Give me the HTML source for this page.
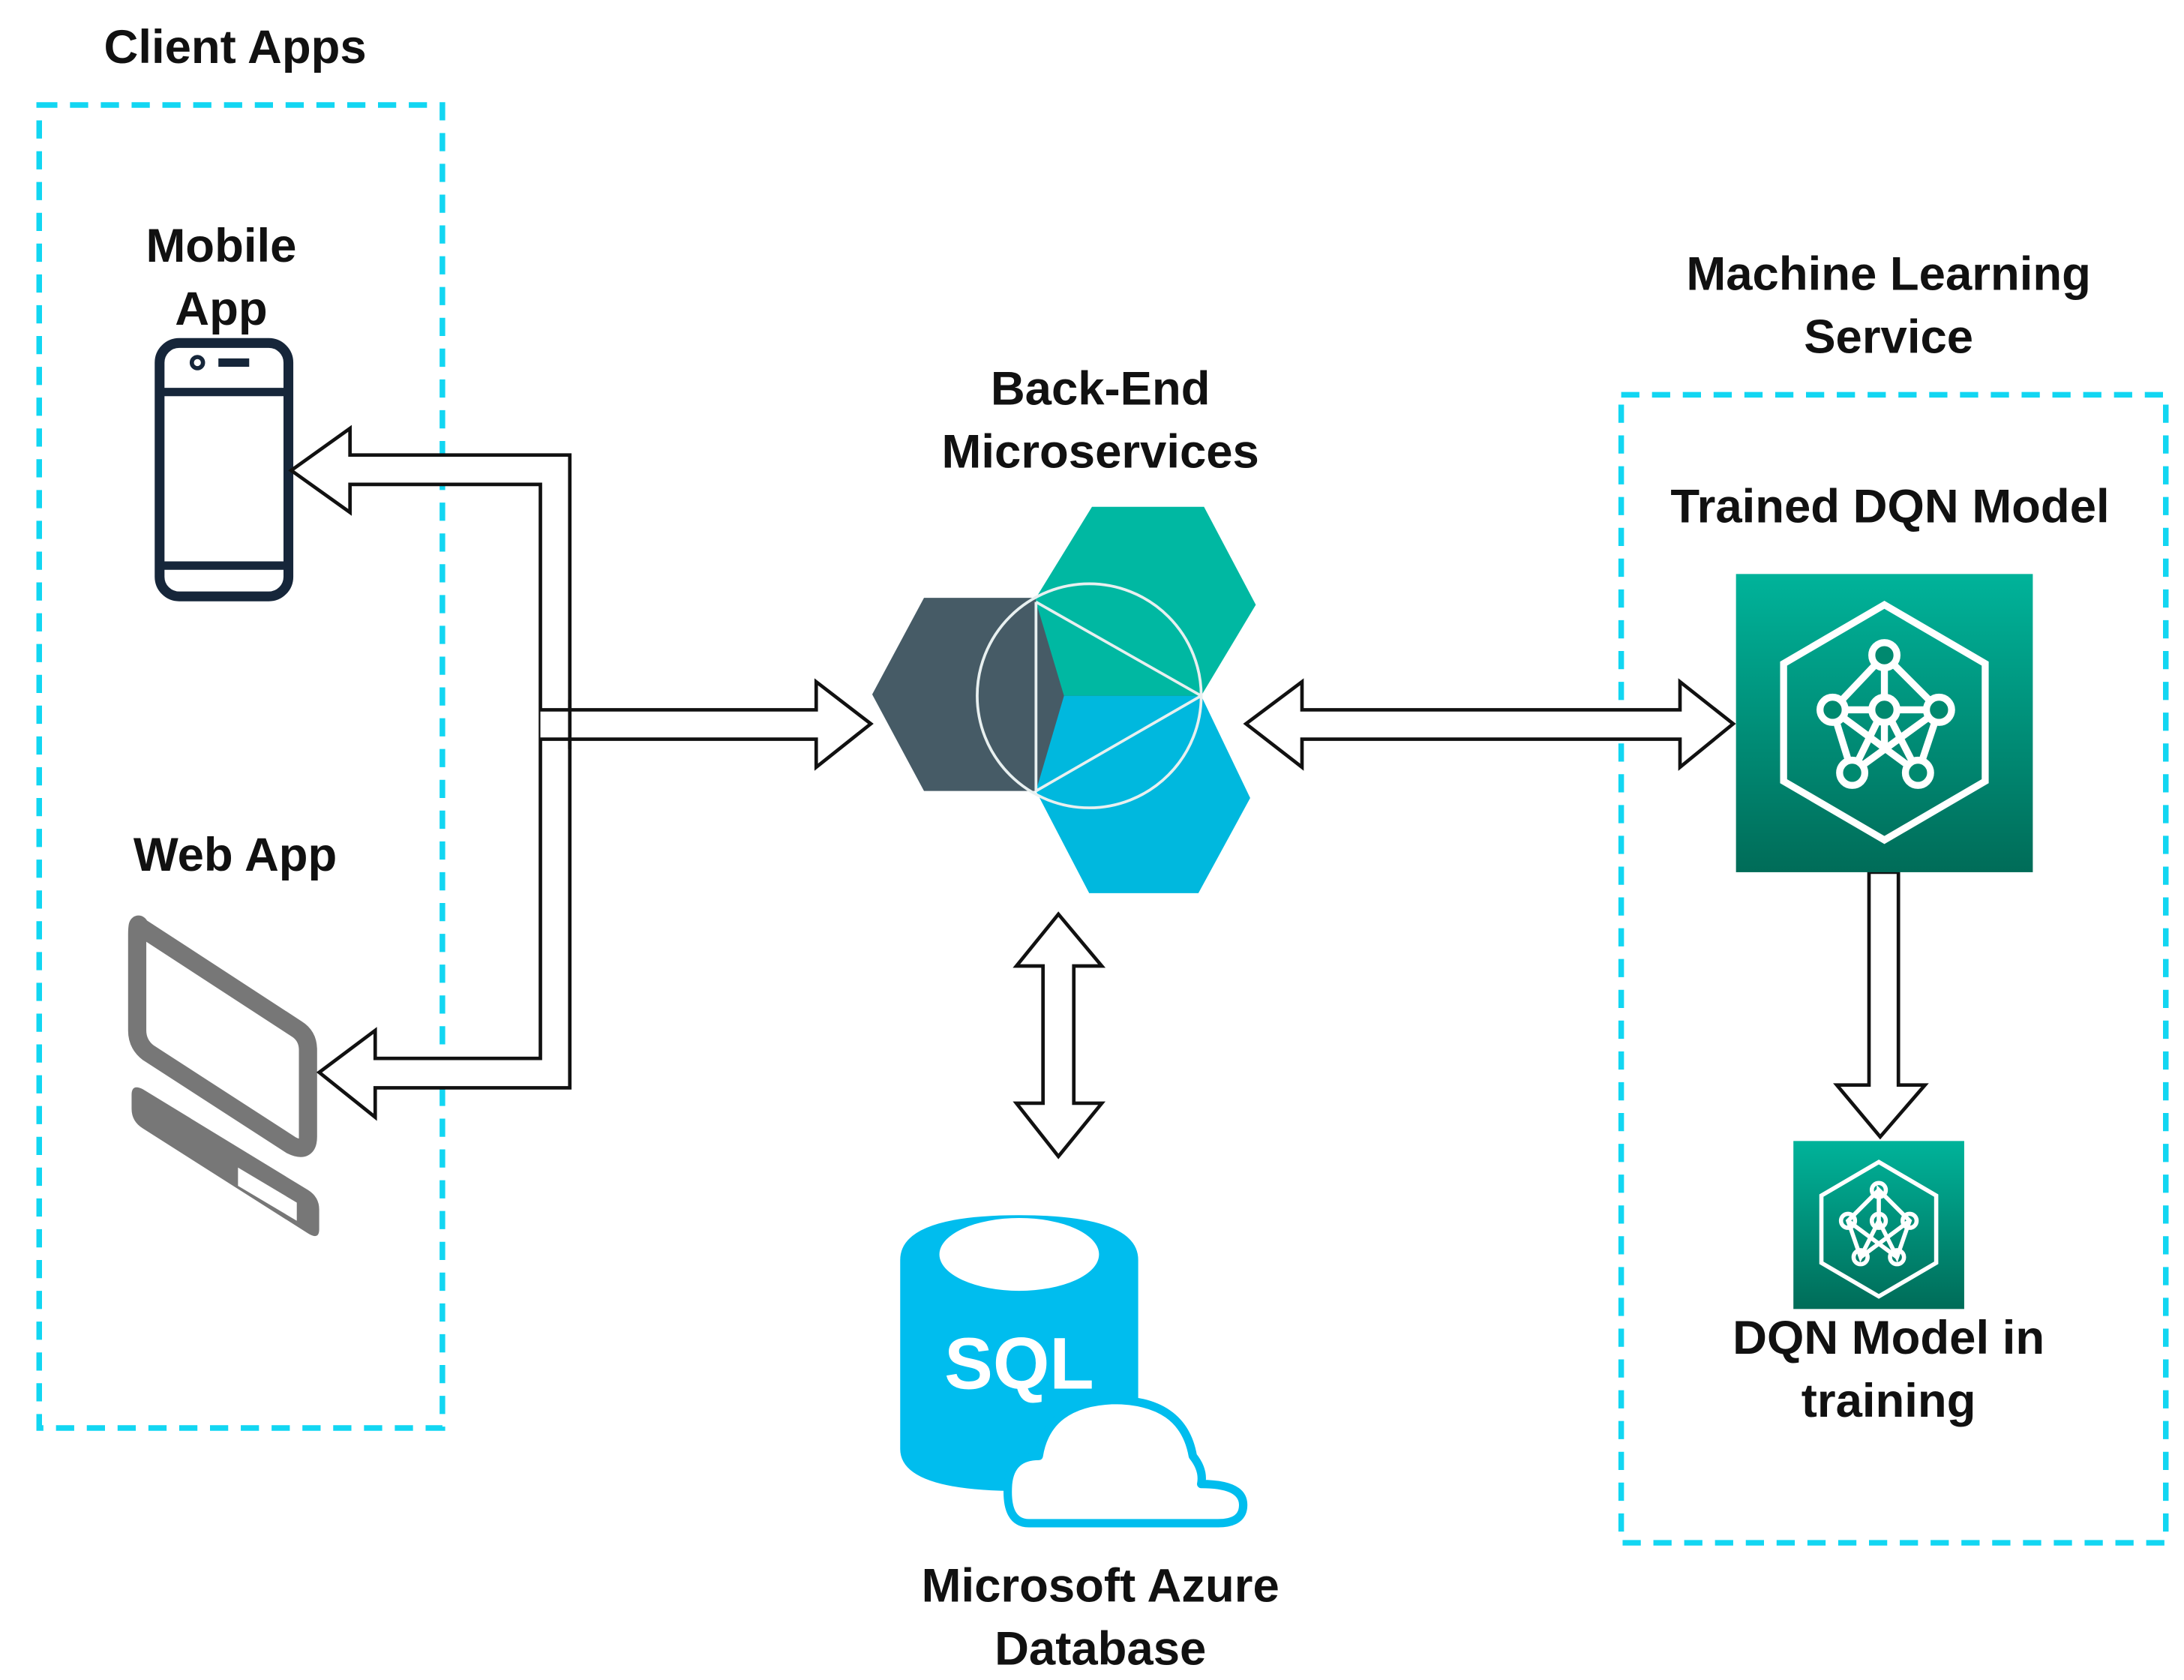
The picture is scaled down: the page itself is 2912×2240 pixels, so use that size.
<!DOCTYPE html>
<html><head><meta charset="utf-8"><style>
html,body{margin:0;padding:0;background:#fff;}
svg{display:block;}
text{font-family:"Liberation Sans",Arial,sans-serif;font-weight:bold;fill:#111;font-size:34px;text-anchor:middle;}
</style></head><body>
<svg width="2912" height="2240" viewBox="0 0 1560 1200" xmlns="http://www.w3.org/2000/svg">
<defs>
<linearGradient id="g" x1="0" y1="0" x2="0" y2="1"><stop offset="0" stop-color="#00b39a"/><stop offset="1" stop-color="#006c58"/></linearGradient>
</defs>
<rect width="1560" height="1200" fill="#fff"/>
<!-- labels -->
<text x="168" y="45">Client Apps</text>
<text x="158" y="187">Mobile</text>
<text x="158" y="232">App</text>
<text x="168" y="622">Web App</text>
<text x="786" y="289">Back-End</text>
<text x="786" y="334">Microservices</text>
<text x="1349" y="207">Machine Learning</text>
<text x="1349" y="252">Service</text>
<text x="1350" y="373">Trained DQN Model</text>
<text x="1349" y="967">DQN Model in</text>
<text x="1349" y="1012">training</text>
<text x="786" y="1144">Microsoft Azure</text>
<text x="786" y="1189">Database</text>
<!-- dashed boxes -->
<rect x="28" y="75" width="288" height="945" fill="none" stroke="#12d6f2" stroke-width="4" stroke-dasharray="13,9"/>
<rect x="1158" y="282" width="389" height="820" fill="none" stroke="#12d6f2" stroke-width="4" stroke-dasharray="13,9"/>
<!-- phone -->
<rect x="114" y="245" width="92" height="181" rx="14" fill="none" stroke="#16263a" stroke-width="7"/>
<line x1="114" y1="280" x2="206" y2="280" stroke="#16263a" stroke-width="6"/>
<line x1="114" y1="404" x2="206" y2="404" stroke="#16263a" stroke-width="6"/>
<circle cx="141" cy="259" r="4" fill="none" stroke="#16263a" stroke-width="3"/>
<rect x="156" y="256" width="22" height="6" fill="#16263a"/>
<!-- computer -->
<path d="M100,662 L212,735 Q220,740 220,750 L220,812 Q220,824 208,818 L106,752 Q98,746 98,736 L98,668 Q98,657 100,662 Z" fill="none" stroke="#777" stroke-width="13" stroke-linejoin="round"/>
<path d="M94,782 Q94,774 102,778 L220,850 Q228,855 228,864 L228,878 Q228,886 220,881 L102,806 Q94,801 94,792 Z" fill="#777"/>
<path d="M170,834 L212,859 L212,872 L170,847 Z" fill="#fff"/>
<!-- client arrows -->
<g fill="none" stroke="#111" stroke-width="2.5" stroke-linejoin="miter">
<path d="M250,325 L250,306 L208,336 L250,366 L250,346 L386,346 L386,756 L268,756 L268,736 L228,766 L268,798 L268,777 L407,777 L407,325 Z" fill="#fff"/>
<path d="M386,507 L583,507 L583,487 L622,517 L583,548 L583,528 L386,528" fill="#fff"/>
<line x1="407" y1="500" x2="407" y2="535"/>
<!-- backend-ML arrow -->
<path d="M930,507 L1200,507 L1200,487 L1238,517 L1200,548 L1200,528 L930,528 L930,548 L890,517 L930,487 Z" fill="#fff"/>
<!-- vertical double arrow -->
<path d="M745,690 L726,690 L756,653 L787,690 L767,690 L767,788 L787,788 L756,826 L726,788 L745,788 Z" fill="#fff"/>
<!-- down arrow -->
<path d="M1335,623 L1356,623 L1356,775 L1375,775 L1343,812 L1312,775 L1335,775 Z" fill="#fff"/>
</g>
<!-- hex cluster -->
<polygon points="660,427 740,427 740,565 660,565 623,496" fill="#465b66"/>
<polygon points="740,427 780,362 860,362 897,432 858,497 740,497" fill="#00b8a2"/>
<polygon points="740,497 858,497 893,570 856,638 778,638 740,565" fill="#00b8de"/>
<polygon points="740,430 858,497 740,565" fill="#465b66"/>
<polygon points="740,430 858,497 760,497" fill="#00b8a2"/>
<polygon points="740,565 858,497 760,497" fill="#00b8de"/>
<g stroke="#e8f0f0" stroke-width="2" fill="none">
<circle cx="778" cy="497" r="80"/>
<line x1="740" y1="430" x2="740" y2="565"/>
<line x1="740" y1="430" x2="858" y2="497"/>
<line x1="740" y1="565" x2="858" y2="497"/>
</g>
<!-- big ML square -->
<rect x="1240" y="410" width="212" height="213" fill="url(#g)"/>
<g stroke="#fff" stroke-width="5" fill="none">
<polygon points="1346,432 1418,474 1418,558 1346,600 1274,558 1274,474"/>
<path d="M1346,468 L1346,535 M1346,468 L1309,507 M1346,468 L1385,507 M1309,507 L1323,552 L1346,505 L1370,552 L1385,507 M1309,507 L1370,552 M1385,507 L1323,552 M1309,507 L1346,507 L1385,507"/>
</g>
<g fill="#00896f" stroke="#fff" stroke-width="5">
<circle cx="1346" cy="468" r="9"/><circle cx="1309" cy="507" r="9"/><circle cx="1385" cy="507" r="9"/><circle cx="1346" cy="507" r="9"/><circle cx="1323" cy="552" r="9"/><circle cx="1370" cy="552" r="9"/>
</g>
<!-- small ML square -->
<rect x="1281" y="815" width="122" height="120" fill="url(#g)"/>
<g stroke="#fff" stroke-width="3" fill="none">
<polygon points="1342,830 1383,854 1383,902 1342,926 1301,902 1301,854"/>
<path d="M1342,850 L1320,872 L1329,898 L1342,872 L1355,898 L1364,872 L1342,850 L1342,872 M1320,872 L1355,898 M1364,872 L1329,898"/>
<circle cx="1342" cy="850" r="5"/><circle cx="1320" cy="872" r="5"/><circle cx="1364" cy="872" r="5"/><circle cx="1342" cy="872" r="5"/><circle cx="1329" cy="898" r="5"/><circle cx="1355" cy="898" r="5"/>
</g>
<!-- SQL -->
<path d="M643,900 Q643,868 728,868 Q813,868 813,900 L813,1035 Q813,1065 728,1065 Q643,1065 643,1035 Z" fill="#00bdee"/>
<ellipse cx="728" cy="896" rx="57" ry="26" fill="#fff"/>
<text x="728" y="992" style="fill:#fff;font-size:52px;">SQL</text>
<path d="M735,1088 Q718,1088 720,1060 Q722,1040 742,1040 Q748,1002 795,1000 Q845,1000 852,1040 Q860,1050 858,1060 Q888,1060 888,1075 Q888,1088 870,1088 Z" fill="#fff" stroke="#00bdee" stroke-width="6" stroke-linejoin="round"/>
</svg>
</body></html>
